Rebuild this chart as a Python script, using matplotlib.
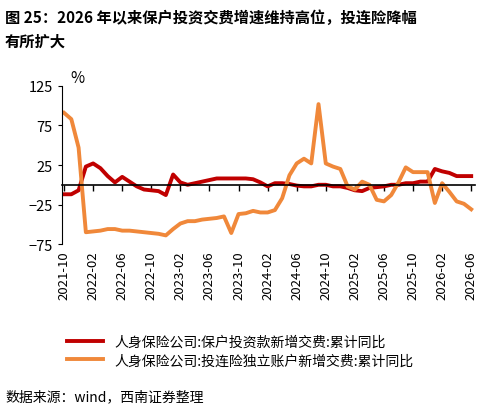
import matplotlib
matplotlib.use("Agg")
import matplotlib.pyplot as plt
import matplotlib.transforms as mt
import pandas as pd

plt.rcParams['font.family'] = ['Noto Sans CJK SC', 'DejaVu Sans']

months = pd.period_range("2021-10", "2026-06", freq="M").strftime("%Y-%m").tolist()
red = [-12,-12,-7,23,27,21,11,3,10,4,-2,-6,-7,-8,-13,13,3,0,2,4,6,8,8,8,8,8,7,3,-2,2,
       2,1,-1,-2,-2,0,0,-2,-2,-4,-7,-8,-4,-3,-2,0,0,2,2,4,4,20,17,15,11,11,11]
orange = [91,83,47,-60,-59,-58,-56,-56,-58,-58,-59,-60,-61,-62,-64,-56,-49,-46,-46,-44,
          -43,-42,-40,-61,-37,-36,-33,-35,-35,-32,-17,12,27,33,27,102,27,23,20,-2,
          -6,4,0,-19,-21,-13,3,22,16,16,16,-23,2,-9,-21,-24,-31]
name_red = "人身保险公司:保户投资款新增交费:累计同比"
name_orange = "人身保险公司:投连险独立账户新增交费:累计同比"
yticks = [125, 75, 25, -25, -75]

fig = plt.figure(figsize=(5.03, 4.14), dpi=100)
ax = fig.add_axes([0.123, 0.408, 0.821, 0.382])
x = list(range(len(months)))
l1, = ax.plot(x, red, color="#C00000", lw=2.8)
l2, = ax.plot(x, orange, color="#F0883A", lw=2.8)
ax.set_ylim(-75, 125)
ax.set_xlim(-0.3, len(months) - 0.5)
ax.set_yticks(yticks)
ax.tick_params(axis='y', labelsize=10.5, length=3, direction='out')
for s in ['top', 'right']:
    ax.spines[s].set_visible(False)
ax.spines['bottom'].set_position(('data', 0))
ax.spines['bottom'].set_linewidth(1.2)
tick_idx = list(range(0, len(months), 4))
ax.set_xticks(tick_idx)
ax.tick_params(axis='x', labelbottom=False, length=4, direction='out', width=1)
trans = mt.blended_transform_factory(ax.transData, ax.transAxes)
for i in tick_idx:
    ax.text(i, -0.04, months[i], transform=trans, rotation=90, ha='center', va='top', fontsize=9.5)
ax.text(0.02, 1.0, "%", transform=ax.transAxes, fontsize=11, va='bottom')

fig.text(0.01, 0.975, "图 25：2026 年以来保户投资交费增速维持高位，投连险降幅\n有所扩大",
         fontsize=11, fontweight='bold', va='top', linespacing=1.6)
fig.legend([l1, l2], [name_red, name_orange], loc='upper left', bbox_to_anchor=(0.12, 0.205),
           frameon=False, fontsize=10, handlelength=2.6, labelspacing=0.3, borderpad=0)
fig.text(0.01, 0.03, "数据来源：wind，西南证券整理", fontsize=10, style='italic')
fig.savefig("out.png", dpi=100)
